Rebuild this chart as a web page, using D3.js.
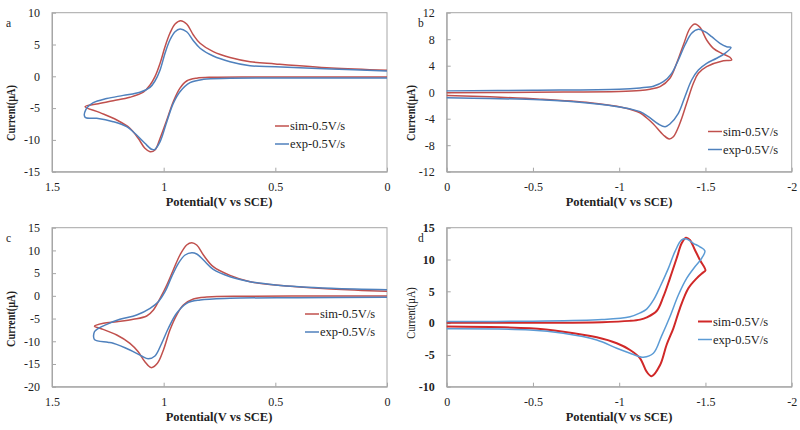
<!DOCTYPE html>
<html><head><meta charset="utf-8">
<script src="https://cdn.jsdelivr.net/npm/d3@7"></script>
<style>body{margin:0;background:#fff} text{font-family:'Liberation Serif','Times New Roman',serif}</style>
</head><body><svg id="chart" width="800" height="430"></svg>
<script>
// ---- data: [potential (V vs SCE), current (µA)] traced around each loop ----
const aSim = [[0,0.95],[0.25,1.3],[0.5,1.95],[0.613,2.3],[0.703,2.95],[0.778,3.87],[0.837,5.19],[0.867,6.5],[0.897,8.22],[0.924,8.74],[0.949,8.22],[0.972,6.76],[0.994,4.65],[1.016,2.05],[1.039,-0.06],[1.061,-1.37],[1.091,-2.5],[1.151,-3.3],[1.226,-3.85],[1.3,-4.35],[1.352,-4.78],
  [1.285,-5.72],[1.21,-6.87],[1.151,-8.17],[1.114,-9.75],[1.084,-11.32],[1.061,-11.85],[1.039,-11.59],[1.016,-9.75],[0.986,-6.87],[0.957,-4.0],[0.927,-1.87],[0.897,-0.74],[0.852,-0.3],[0.778,-0.15],[0.6,-0.1],[0.3,-0.1],[0,-0.1]];
const aExp = [[0,0.85],[0.25,1.15],[0.5,1.5],[0.613,1.67],[0.703,2.3],[0.778,3.19],[0.837,4.41],[0.867,5.6],[0.897,7.0],[0.927,7.44],[0.949,7.0],[0.972,5.71],[0.994,3.62],[1.016,1.0],[1.039,-0.74],[1.061,-1.73],[1.106,-2.5],[1.181,-3.0],[1.255,-3.5],[1.315,-4.15],[1.348,-5.2],[1.352,-6.45],
  [1.3,-6.6],[1.226,-7.14],[1.166,-7.92],[1.121,-9.23],[1.084,-10.53],[1.054,-11.48],[1.039,-11.48],[1.016,-10.28],[0.986,-7.14],[0.957,-4.25],[0.927,-2.42],[0.882,-1.0],[0.822,-0.47],[0.703,-0.31],[0.4,-0.28],[0,-0.25]];
const bSim = [[0,-0.1],[-0.5,0.0],[-1.0,0.1],[-1.121,0.25],[-1.179,0.45],[-1.237,0.83],[-1.294,2.1],[-1.333,4.36],[-1.372,7.12],[-1.41,9.64],[-1.439,10.29],[-1.468,9.79],[-1.507,7.88],[-1.546,6.62],[-1.594,5.87],[-1.642,5.27],[-1.652,4.86],
  [-1.604,4.76],[-1.507,3.85],[-1.459,2.85],[-1.43,1.34],[-1.391,-1.68],[-1.352,-4.69],[-1.314,-6.72],[-1.29,-7.06],[-1.256,-6.46],[-1.198,-4.8],[-1.16,-3.9],[-1.12,-3.1],[-1.02,-2.3],[-0.83,-1.6],[-0.54,-1.05],[-0.25,-0.7],[0,-0.5]];
const bExp = [[0,0.2],[-0.5,0.3],[-1.0,0.45],[-1.121,0.65],[-1.198,0.9],[-1.256,1.58],[-1.304,2.85],[-1.343,4.86],[-1.381,7.12],[-1.42,8.89],[-1.459,9.49],[-1.497,9.13],[-1.536,8.38],[-1.584,7.38],[-1.623,6.87],[-1.648,6.75],
  [-1.613,5.87],[-1.565,5.12],[-1.507,4.36],[-1.459,3.35],[-1.42,1.84],[-1.381,-0.68],[-1.343,-3.19],[-1.294,-4.8],[-1.266,-5.21],[-1.227,-4.8],[-1.169,-3.7],[-1.121,-2.94],[-1.02,-2.3],[-0.83,-1.65],[-0.54,-1.15],[-0.25,-0.95],[0,-0.85]];
const cSim = [[0,1.0],[0.25,1.5],[0.5,2.4],[0.613,3.1],[0.703,4.5],[0.778,6.42],[0.822,8.99],[0.852,11.19],[0.874,11.7],[0.897,11.19],[0.927,8.99],[0.957,5.69],[0.986,2.39],[1.016,-0.54],[1.046,-3.11],[1.076,-4.43],[1.136,-5.16],[1.21,-5.69],[1.27,-6.05],[1.31,-6.7],
  [1.285,-7.14],[1.21,-8.62],[1.151,-10.45],[1.114,-12.3],[1.084,-14.5],[1.056,-15.8],[1.028,-14.85],[1.001,-11.92],[0.972,-7.52],[0.942,-4.22],[0.912,-2.02],[0.867,-0.7],[0.807,-0.25],[0.63,-0.1],[0.3,-0.05],[0,-0.05]];
const cExp = [[0,1.35],[0.25,1.65],[0.5,2.4],[0.613,3.12],[0.703,4.22],[0.778,5.84],[0.822,7.89],[0.852,9.21],[0.874,9.5],[0.904,8.99],[0.934,7.16],[0.964,4.22],[0.994,0.91],[1.024,-1.29],[1.061,-2.74],[1.121,-4.22],[1.196,-5.16],[1.255,-6.27],[1.292,-7.14],[1.31,-7.9],[1.31,-9.6],
  [1.25,-10.2],[1.226,-10.45],[1.151,-11.92],[1.099,-13.24],[1.069,-13.85],[1.039,-13.24],[1.009,-10.45],[0.979,-7.14],[0.942,-3.84],[0.897,-1.64],[0.837,-0.92],[0.703,-0.54],[0.4,-0.4],[0,-0.3]];
const dSim = [[0,0.05],[-0.5,0.05],[-0.9,0.15],[-1.06,0.35],[-1.121,0.55],[-1.16,0.9],[-1.217,1.9],[-1.256,4.15],[-1.294,7.04],[-1.333,10.19],[-1.362,12.55],[-1.387,13.43],[-1.41,13.07],[-1.439,11.5],[-1.468,9.92],[-1.5,8.3],
  [-1.488,8.0],[-1.449,7.04],[-1.401,5.47],[-1.352,2.33],[-1.314,-0.82],[-1.275,-3.4],[-1.237,-6.59],[-1.188,-8.35],[-1.159,-7.64],[-1.121,-5.53],[-1.063,-4.23],[-0.986,-3.17],[-0.87,-2.23],[-0.676,-1.35],[-0.483,-0.82],[0,-0.55]];
const dExp = [[0,0.25],[-0.5,0.3],[-0.9,0.55],[-1.063,1.0],[-1.121,1.6],[-1.159,2.2],[-1.198,3.6],[-1.237,5.72],[-1.285,8.61],[-1.323,11.23],[-1.362,13.07],[-1.391,13.22],[-1.43,12.55],[-1.468,12.0],[-1.497,11.34],
  [-1.478,10.19],[-1.439,8.87],[-1.391,7.04],[-1.343,4.42],[-1.294,1.0],[-1.246,-2.0],[-1.198,-4.75],[-1.14,-5.38],[-1.121,-5.3],[-1.063,-4.75],[-0.986,-3.96],[-0.87,-2.66],[-0.676,-1.6],[-0.483,-1.08],[0,-0.9]];

const xTicksPos = [1.5, 1, 0.5, 0];
const xTickLabelsPos = ["1.5", "1", "0.5", "0"];
const xTicksNeg = [0, -0.5, -1, -1.5, -2];
const xTickLabelsNeg = ["0", "-0.5", "-1", "-1.5", "-2"];
const yTicksA = [-15, -10, -5, 0, 5, 10];
const yTicksB = [-12, -8, -4, 0, 4, 8, 12];
const yTicksC = [-20, -15, -10, -5, 0, 5, 10, 15];
const yTicksD = [-10, -5, 0, 5, 10, 15];
const seriesNames = ["sim-0.5V/s", "exp-0.5V/s"];
const panelNames = ["a", "b", "c", "d"];
const xTitle = "Potential(V vs SCE)";
const yTitle = "Current(µA)";

// ---- layout ----
const panels = [
  {name: panelNames[0], L: 52, R: 387, T: 12.7, B: 171.7, xd: [1.5, 0], yd: [-15, 10], xt: xTicksPos, xl: xTickLabelsPos, yt: yTicksA,
   sim: aSim, exp: aExp, lx: 275, ly: 126, ox: 0, oy: 0, red: "#C0504D", blue: "#4F81BD", rw: 1.5, bw: 1.5, ylab: 113},
  {name: panelNames[1], L: 446.7, R: 791.7, T: 12.7, B: 171.7, xd: [0, -2], yd: [-12, 12], xt: xTicksNeg, xl: xTickLabelsNeg, yt: yTicksB,
   sim: bSim, exp: bExp, lx: 708, ly: 131.5, ox: 400, oy: 0, red: "#C0504D", blue: "#4F81BD", rw: 1.5, bw: 1.5, ylab: 113},
  {name: panelNames[2], L: 52, R: 387, T: 227.7, B: 386.7, xd: [1.5, 0], yd: [-20, 15], xt: xTicksPos, xl: xTickLabelsPos, yt: yTicksC,
   sim: cSim, exp: cExp, lx: 305, ly: 314, ox: 0, oy: 215, red: "#C0504D", blue: "#4F81BD", rw: 1.5, bw: 1.5, ylab: 319},
  {name: panelNames[3], L: 446.7, R: 791.7, T: 227.7, B: 386.7, xd: [0, -2], yd: [-10, 15], xt: xTicksNeg, xl: xTickLabelsNeg, yt: yTicksD,
   sim: dSim, exp: dExp, lx: 698, ly: 321.5, ox: 400, oy: 215, red: "#D02828", blue: "#5B9BD5", rw: 2, bw: 1.5, ylab: 313, boldY: true, lightTitle: true}
];

const svg = d3.select("#chart");
const serif = "'Liberation Serif','Times New Roman',serif";
const grey = "#a6a6a6";

panels.forEach(p => {
  const x = d3.scaleLinear().domain(p.xd).range([p.L, p.R]);
  const y = d3.scaleLinear().domain(p.yd).range([p.B, p.T]);
  const g = svg.append("g");

  g.append("rect").attr("x", p.L).attr("y", p.T).attr("width", p.R - p.L).attr("height", p.B - p.T)
    .attr("fill", "none").attr("stroke", grey).attr("stroke-width", 1);

  const xa = g.append("g").attr("transform", `translate(0,${p.B})`)
    .call(d3.axisBottom(x).tickValues(p.xt).tickSizeInner(-4).tickSizeOuter(0).tickPadding(11)
      .tickFormat((d, i) => p.xl[i]));
  const ya = g.append("g").attr("transform", `translate(${p.L},0)`)
    .call(d3.axisLeft(y).tickValues(p.yt).tickSizeInner(-4).tickSizeOuter(0).tickPadding(12)
      .tickFormat(d => String(d)));
  [xa, ya].forEach(a => {
    a.attr("font-family", serif);
    a.select(".domain").attr("stroke", grey);
    a.selectAll(".tick line").attr("stroke", grey);
    a.selectAll("text").style("font-family", serif).style("font-size", "12px").attr("fill", "#222");
  });
  if (p.boldY) ya.selectAll("text").style("font-weight", "bold");

  const line = d3.line().x(d => x(d[0])).y(d => y(d[1])).curve(d3.curveCatmullRom.alpha(0.5));
  g.append("path").datum(p.sim).attr("d", line).attr("fill", "none").attr("stroke", p.red).attr("stroke-width", p.rw);
  g.append("path").datum(p.exp).attr("d", line).attr("fill", "none").attr("stroke", p.blue).attr("stroke-width", p.bw);

  [[p.red, p.rw], [p.blue, p.bw]].forEach((c, i) => {
    const yy = p.ly + i * 18;
    g.append("line").attr("x1", p.lx).attr("x2", p.lx + 14).attr("y1", yy).attr("y2", yy)
      .attr("stroke", c[0]).attr("stroke-width", c[1]);
    g.append("text").attr("x", p.lx + 15).attr("y", yy + 4.3).style("font-size", "12.5px")
      .attr("fill", "#222").text(seriesNames[i]);
  });

  g.append("text").attr("x", p.ox + 219).attr("y", p.oy + 206).attr("text-anchor", "middle")
    .style("font-size", "12.5px").style("font-weight", "bold").attr("fill", "#222").text(xTitle);
  g.append("text").attr("transform", `translate(${p.ox + 15},${p.ylab}) rotate(-90) scale(0.82,1)`).attr("text-anchor", "middle")
    .style("font-size", "12.5px").style("font-weight", p.lightTitle ? "normal" : "bold")
    .attr("fill", "#222").text(yTitle);
  g.append("text").attr("x", p.ox + (p.ox ? 18 : 6)).attr("y", p.oy + 27)
    .style("font-size", "11.5px").attr("fill", "#222").text(p.name);
});
</script>
</body></html>
